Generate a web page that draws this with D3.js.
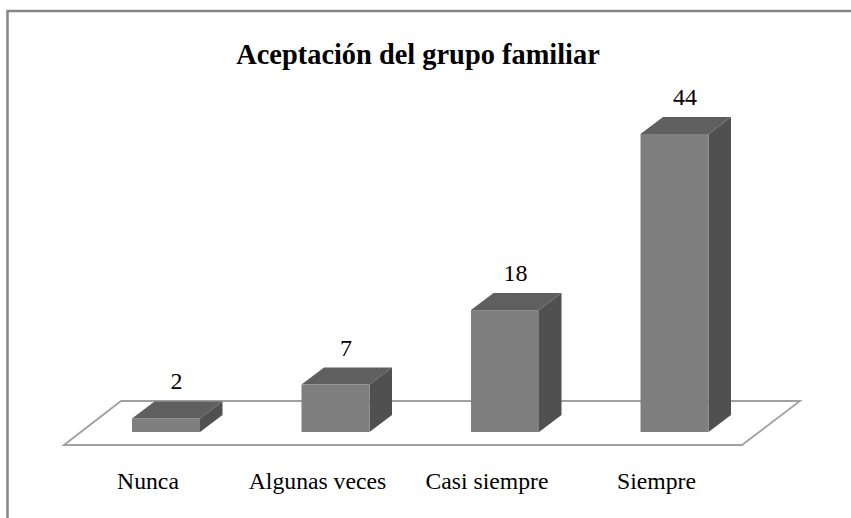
<!DOCTYPE html>
<meta charset="utf-8">
<style>
    body {margin: 0; background: #fff;}
    text {font-family: 'Liberation Serif', serif; fill: #000;}
</style>
<svg width="851" height="518"></svg>
<script src="https://d3js.org/d3.v7.min.js"></script>
<script>

var categories = ["Nunca", "Algunas veces", "Casi siempre", "Siempre"];
var values = [2, 7, 18, 44];
var chartTitle = "Aceptación del grupo familiar";

var svg = d3.select("svg");

// front face plane of the bars
var x = d3.scalePoint().domain(categories).range([166, 674.5]);
var y = d3.scaleLinear().domain([0, 44]).range([432, 134]);
var barWidth = 68, depthX = 22.5, depthY = -17;

// chart frame
svg.append("rect")
    .attr("x", 7.5).attr("y", 11)
    .attr("width", 900).attr("height", 600)
    .style("fill", "#fff")
    .style("stroke", "#868686")
    .style("stroke-width", 2.5);

// floor
svg.append("path")
    .attr("d", "M64,445 L121,401 L800,401 L742,445 Z")
    .style("fill", "#fff")
    .style("stroke", "#a0a0a0")
    .style("stroke-width", 1.8);

var bar = svg.append("g").selectAll("g")
    .data(categories)
    .enter().append("g");

// side
bar.append("path")
    .attr("d", function(d, i) {
      var r = x(d) + barWidth / 2;
      return "M" + r + "," + y(0) + "L" + (r + depthX) + "," + (y(0) + depthY) +
             "L" + (r + depthX) + "," + (y(values[i]) + depthY) + "L" + r + "," + y(values[i]) + "Z";
    })
    .style("fill", "#505050");

// top
bar.append("path")
    .attr("d", function(d, i) {
      var l = x(d) - barWidth / 2, t = y(values[i]);
      return "M" + l + "," + t + "L" + (l + depthX) + "," + (t + depthY) +
             "L" + (l + barWidth + depthX) + "," + (t + depthY) + "L" + (l + barWidth) + "," + t + "Z";
    })
    .style("fill", "#5f5f5f");

// front
bar.append("rect")
    .attr("x", function(d) { return x(d) - barWidth / 2; })
    .attr("y", function(d, i) { return y(values[i]); })
    .attr("width", barWidth)
    .attr("height", function(d, i) { return y(0) - y(values[i]); })
    .style("fill", "#7f7f7f");

// value labels
bar.append("text")
    .attr("x", function(d) { return x(d) + 10.5; })
    .attr("y", function(d, i) { return y(values[i]) + depthY - 12; })
    .attr("text-anchor", "middle")
    .style("font-size", "24px")
    .text(function(d, i) { return values[i]; });

// category labels
bar.append("text")
    .attr("x", function(d) { return x(d) - 18; })
    .attr("y", 489)
    .attr("text-anchor", "middle")
    .style("font-size", "23.7px")
    .text(function(d) { return d; });

svg.append("text")
    .attr("x", 418)
    .attr("y", 64)
    .attr("text-anchor", "middle")
    .style("font-size", "28.4px")
    .style("font-weight", "bold")
    .text(chartTitle);

</script>
